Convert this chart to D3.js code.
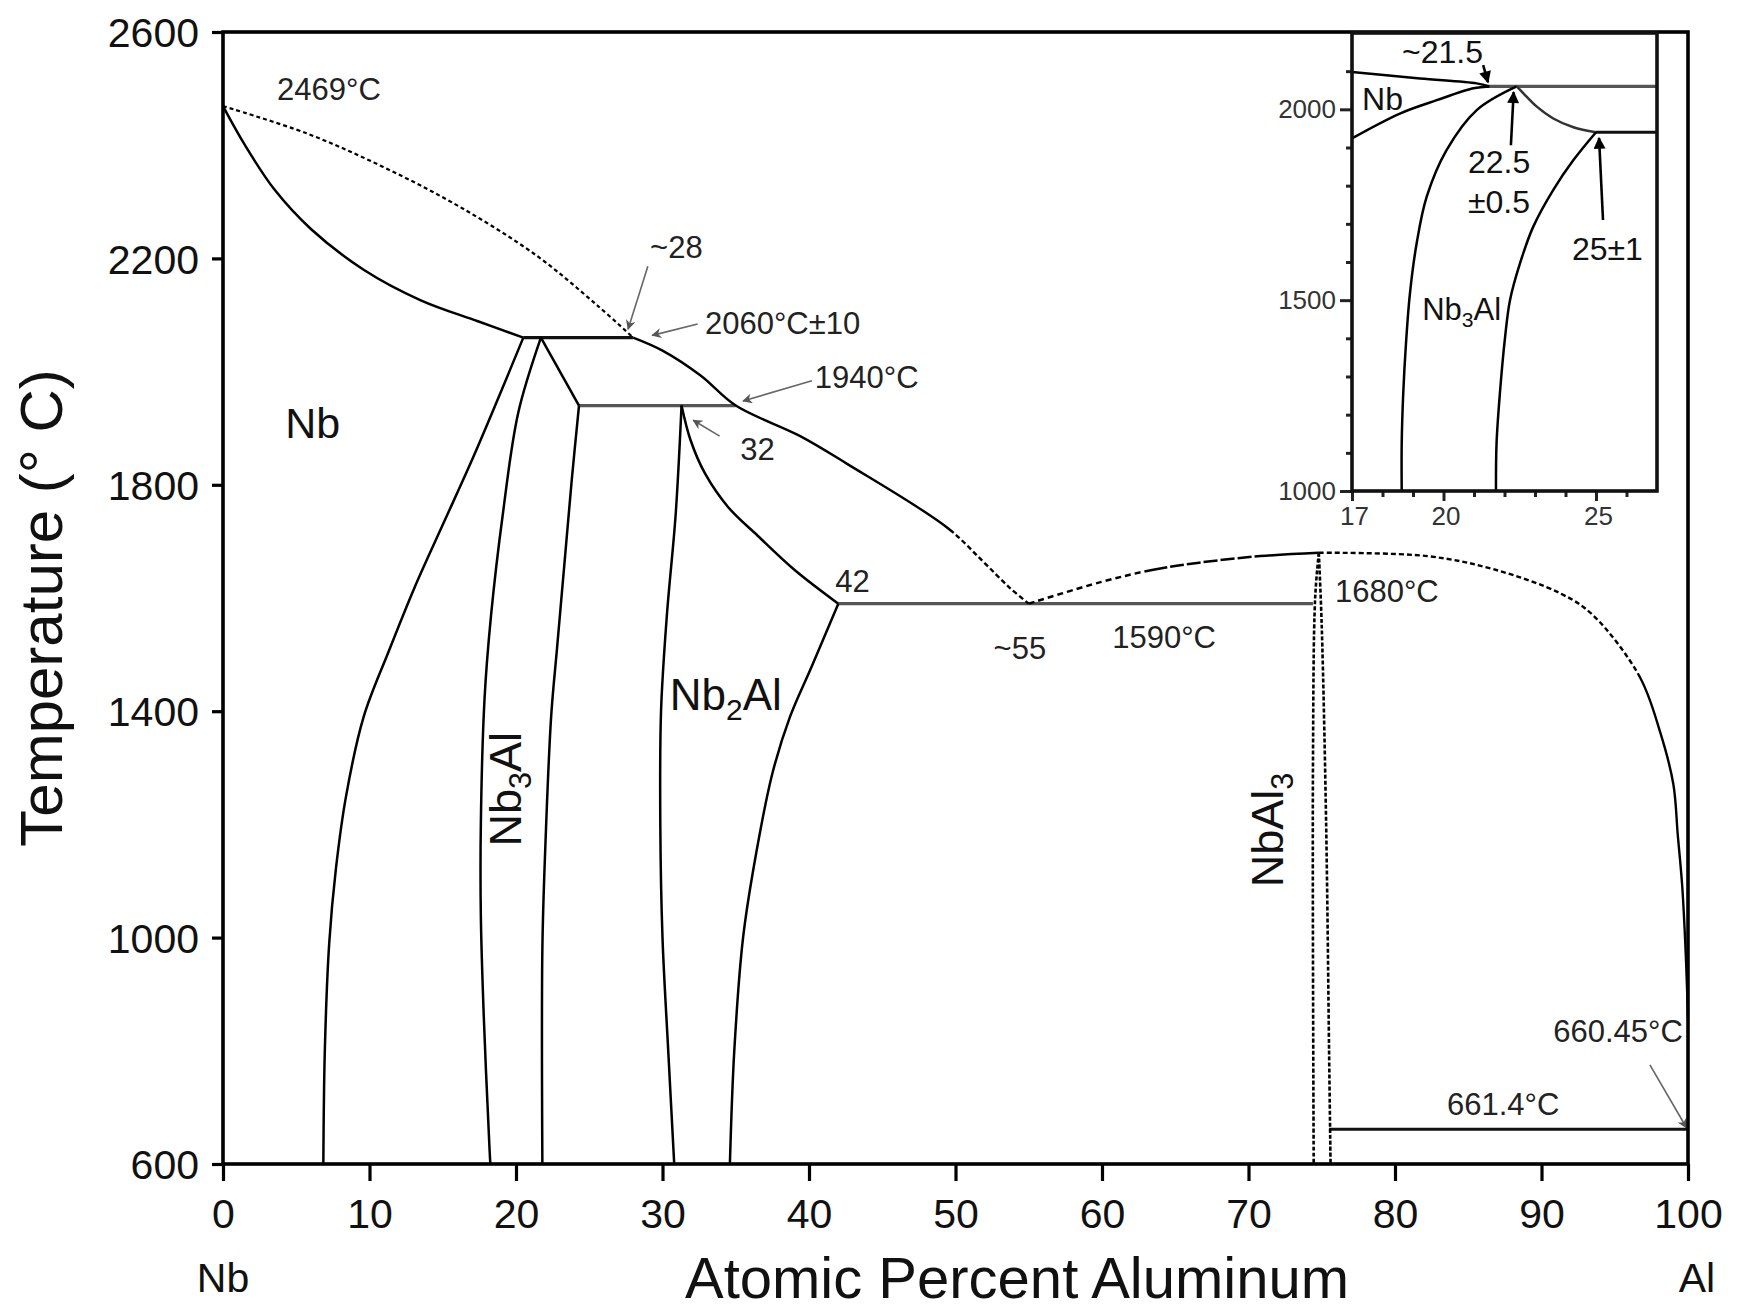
<!DOCTYPE html>
<html>
<head>
<meta charset="utf-8">
<script src="https://cdn.jsdelivr.net/npm/d3@7"></script>
<style>
  html, body { margin: 0; padding: 0; background: #fff; }
  svg { display: block; }
  text { font-family: "Liberation Sans", Arial, Helvetica, sans-serif; fill: #111; }
</style>
</head>
<body>
<svg id="chart" width="1738" height="1312"></svg>
<script>
// ---- Axis ticks ----
const xTicks = [0, 10, 20, 30, 40, 50, 60, 70, 80, 90, 100];
const yTicks = [600, 1000, 1400, 1800, 2200, 2600];
const insetXMajor = [17, 20, 25];
const insetXMinor = [18, 19, 21, 22, 23, 24, 26];
const insetYMajor = [1000, 1500, 2000];
const insetYMinor = [1100, 1200, 1300, 1400, 1600, 1700, 1800, 1900, 2100];

// ---- Phase boundaries, [at.% Al, °C] ----
const nbLiquidus = [[0, 2469], [5.7, 2421], [10.9, 2362], [16.1, 2292], [21.4, 2205], [25.5, 2118], [28, 2060]];
const nbSolidus = [[0, 2469], [1.5, 2400], [3.5, 2322], [6, 2252], [9.6, 2180], [13.5, 2126], [17.4, 2089], [20.5, 2060]];
const nbSolvus = [[20.5, 2060], [18.9, 1960], [17.1, 1850], [15.1, 1735], [13.1, 1620], [11.3, 1505], [9.6, 1390], [8.4, 1250], [7.7, 1120], [7.25, 990], [6.95, 800], [6.85, 600]];
const nb3AlLeft = [[21.7, 2060], [20.15, 1927], [19.1, 1748], [18.3, 1570], [17.85, 1421], [17.6, 1200], [17.6, 1039], [17.8, 861], [18.2, 623], [18.25, 600]];
const nb3AlTop = [[21.7, 2060], [24.3, 1940]];
const nb3AlRight = [[24.3, 1940], [23.8, 1807], [23.3, 1659], [22.8, 1511], [22.4, 1391], [22.0, 1159], [21.8, 980], [21.8, 600]];
const nb2AlLeft = [[31.3, 1940], [30.9, 1748], [30.3, 1570], [29.9, 1400], [29.85, 1200], [30.0, 1000], [30.4, 796], [30.8, 600]];
const nb2AlUpper = [[31.3, 1940], [31.9, 1880], [32.9, 1820], [34.5, 1760], [36.5, 1710], [39, 1650], [42, 1590]];
const nb2AlLower = [[42, 1590], [40.2, 1480], [38.7, 1390], [37.5, 1290], [36.4, 1150], [35.5, 1000], [34.9, 800], [34.6, 600]];
// liquidus from the 2060 °C peritectic down to the ~55 at.% eutectic (solid, then dashed)
const liquidusMid = [[28, 2060], [30, 2037], [32.6, 1993], [35, 1940], [39.4, 1886], [42.6, 1837], [49.4, 1725], [51.9, 1664], [53.7, 1618], [55, 1590]];
// liquidus rising from the eutectic to the NbAl3 congruent point
const liquidusRise = [[55, 1590], [59.9, 1628], [63.5, 1650], [66.5, 1662], [70.8, 1674], [74.8, 1680]];
// liquidus from NbAl3 to pure Al
const alLiquidus = [[74.8, 1680], [82.2, 1674], [86.7, 1651], [91.3, 1608], [93.5, 1570], [96.7, 1461], [98.1, 1363], [99.0, 1271], [99.3, 1182], [99.6, 1093], [99.8, 998], [99.95, 900], [100, 860]];
const nbAl3Left = [[74.8, 1680], [74.55, 1600], [74.4, 1300], [74.45, 600]];
const nbAl3Right = [[74.8, 1680], [75.0, 1550], [75.3, 1200], [75.5, 800], [75.6, 600]];

// Invariant reactions: [from at.%, to at.%, °C]
const isotherms = [
  { from: 20.5, to: 28, t: 2060, color: "#111" },
  { from: 24.3, to: 35, t: 1940, color: "#555" },
  { from: 42, to: 74.4, t: 1590, color: "#555" },
  { from: 75.5, to: 100, t: 661.4, color: "#111" }
];

// Annotations [text, at.%, °C]
const notes = [
  ["2469°C", 3.69, 2480], ["~28", 29.15, 2200], ["2060°C±10", 32.9, 2066],
  ["1940°C", 40.4, 1971], ["32", 35.3, 1843], ["42", 41.8, 1611],
  ["~55", 52.6, 1493], ["1590°C", 60.7, 1511], ["1680°C", 75.9, 1593],
  ["660.45°C", 90.8, 816], ["661.4°C", 83.55, 686]
];
const noteArrows = [
  [[29.0, 2186], [27.65, 2075]],
  [[32.4, 2084], [29.3, 2064]],
  [[40.2, 1984], [35.5, 1948]],
  [[33.9, 1886], [32.1, 1914]],
  [[97.4, 775], [99.9, 664]]
];

// ---- Inset: Nb3Al region enlarged ----
const inNbSolidus = [[17, 2098], [19.23, 2081], [21.09, 2068], [21.5, 2060]];
const inNbSolvus = [[17, 1924], [18.57, 1989], [19.78, 2024], [20.98, 2055], [21.5, 2060]];
const inNb3AlLeft = [[22.4, 2060], [21.09, 1998], [20.1, 1893], [19.45, 1771], [19.12, 1649], [18.9, 1518], [18.77, 1387], [18.68, 1256], [18.63, 1125], [18.63, 1000]];
const inNb3AlTop = [[22.4, 2060], [22.62, 2042], [23.06, 2007], [23.6, 1976], [24.26, 1953], [25, 1940]];
const inNb3AlRight = [[25, 1940], [24.26, 1867], [23.6, 1789], [22.94, 1692], [22.51, 1597], [22.18, 1500], [22.02, 1404], [21.85, 1257], [21.74, 1126], [21.72, 1000]];
const inIsotherms = [
  { from: 21.3, to: 27, t: 2060, color: "#555" },
  { from: 25, to: 27, t: 1940, color: "#111" }
];
const inNotes = [["~21.5", 18.64, 2121], ["22.5", 20.8, 1833], ["±0.5", 20.8, 1728], ["25±1", 24.21, 1605]];
const inArrows = [
  [[21.3, 2116], [21.46, 2071]],
  [[22.21, 1906], [22.3, 2045]],
  [[25.23, 1710], [25.1, 1925]]
];

// ---- Scales ----
const x = d3.scaleLinear().domain([0, 100]).range([223, 1688]);
const y = d3.scaleLinear().domain([600, 2600]).range([1164, 32]);
const ix = d3.scaleLinear().domain([17, 27]).range([1352, 1657]);
const iy = d3.scaleLinear().domain([1000, 2200]).range([491, 33]);

const svg = d3.select("#chart");
const defs = svg.append("defs");
defs.append("marker").attr("id", "headGray")
  .attr("viewBox", "0 0 10 10").attr("refX", 9).attr("refY", 5)
  .attr("markerUnits", "userSpaceOnUse").attr("markerWidth", 13).attr("markerHeight", 10)
  .attr("orient", "auto")
  .append("path").attr("d", "M0,0 L10,5 L0,10 L3,5 z").attr("fill", "#555");
defs.append("marker").attr("id", "headBlack")
  .attr("viewBox", "0 0 10 10").attr("refX", 9).attr("refY", 5)
  .attr("markerUnits", "userSpaceOnUse").attr("markerWidth", 16).attr("markerHeight", 12)
  .attr("orient", "auto")
  .append("path").attr("d", "M0,0 L10,5 L0,10 z").attr("fill", "#000");

const mainLine = d3.line().x(d => x(d[0])).y(d => y(d[1])).curve(d3.curveCatmullRom.alpha(0.5));
const insetLine = d3.line().x(d => ix(d[0])).y(d => iy(d[1])).curve(d3.curveCatmullRom.alpha(0.5));

const plot = svg.append("g");

function curve(g, gen, data, opts) {
  return g.append("path").datum(data).attr("d", gen)
    .attr("fill", "none").attr("stroke", opts.color || "#000")
    .attr("stroke-width", opts.width || 2.5)
    .attr("stroke-dasharray", opts.dash || null)
    .attr("stroke-linejoin", "round");
}

// One smooth path whose dash pattern changes at given compositions.
// stops: [{to: at.% or null (end), dash: [on, off] or null (solid)}]
function styledCurve(g, data, stops, width) {
  const p = curve(g, mainLine, data, { width });
  const node = p.node();
  const L = node.getTotalLength();
  const lengthAtX = xv => {
    let lo = 0, hi = L;
    for (let i = 0; i < 40; i++) {
      const m = (lo + hi) / 2;
      if (node.getPointAtLength(m).x < x(xv)) lo = m; else hi = m;
    }
    return lo;
  };
  const arr = [];
  let pos = 0;
  stops.forEach(s => {
    const end = s.to == null ? L + 1 : lengthAtX(s.to);
    if (!s.dash) { arr.push(end - pos, 0); pos = end; return; }
    const [a, b] = s.dash;
    while (pos + a + b <= end) { arr.push(a, b); pos += a + b; }
    if (pos < end) { arr.push(end - pos, 0); pos = end; }
  });
  p.attr("stroke-dasharray", arr.map(v => v.toFixed(2)).join(","));
}

// isotherms first so boundary curves sit on top
plot.selectAll("line.iso").data(isotherms).join("line")
  .attr("x1", d => x(d.from)).attr("x2", d => x(d.to))
  .attr("y1", d => y(d.t)).attr("y2", d => y(d.t))
  .attr("stroke", d => d.color).attr("stroke-width", 3.2);

curve(plot, mainLine, nbLiquidus, { dash: "4,3", width: 2.2 });
curve(plot, mainLine, nbSolidus, {});
curve(plot, mainLine, nbSolvus, {});
curve(plot, mainLine, nb3AlLeft, {});
curve(plot, mainLine, nb3AlTop, {});
curve(plot, mainLine, nb3AlRight, {});
curve(plot, mainLine, nb2AlLeft, {});
curve(plot, mainLine, nb2AlUpper, {});
curve(plot, mainLine, nb2AlLower, {});
styledCurve(plot, liquidusMid, [{ to: 49.6, dash: null }, { to: null, dash: [5, 3] }], 2.4);
styledCurve(plot, liquidusRise, [{ to: 63.5, dash: [6, 4] }, { to: 70.8, dash: [14, 3] }, { to: null, dash: null }], 2.5);
styledCurve(plot, alLiquidus, [{ to: 96.7, dash: [5, 3] }, { to: null, dash: null }], 2.4);
curve(plot, mainLine, nbAl3Left, { dash: "4,2", width: 2.6 });
curve(plot, mainLine, nbAl3Right, { dash: "4,2", width: 2.6 });

// annotation arrows and values
plot.selectAll("line.arrow").data(noteArrows).join("line")
  .attr("x1", d => x(d[0][0])).attr("y1", d => y(d[0][1]))
  .attr("x2", d => x(d[1][0])).attr("y2", d => y(d[1][1]))
  .attr("stroke", "#666").attr("stroke-width", 1.6)
  .attr("marker-end", "url(#headGray)");

plot.selectAll("text.note").data(notes).join("text")
  .attr("x", d => x(d[1])).attr("y", d => y(d[2]))
  .attr("font-size", 31).style("fill", "#222")
  .text(d => d[0]);

// phase field names
function phaseLabel(g, parts, px, py, size, rotate) {
  const t = g.append("text").attr("font-size", size)
    .attr("transform", `translate(${px},${py})` + (rotate ? " rotate(-90)" : ""))
    .attr("text-anchor", rotate ? "middle" : "start");
  parts.forEach(p => {
    const s = t.append("tspan").text(p.t);
    if (p.sub) s.attr("font-size", size * 0.68).attr("dy", size * 0.22);
    if (p.back) s.attr("dy", -size * 0.22);
  });
}
phaseLabel(plot, [{ t: "Nb" }], x(4.25), y(1882), 43, false);
phaseLabel(plot, [{ t: "Nb" }, { t: "2", sub: true }, { t: "Al", back: true }], x(30.5), y(1402), 44, false);
phaseLabel(plot, [{ t: "Nb" }, { t: "3", sub: true }, { t: "Al", back: true }], x(20.34), y(1262), 45, true);
phaseLabel(plot, [{ t: "NbAl" }, { t: "3", sub: true }], x(72.35), y(1190), 45, true);

// ---- Axes ----
const fmt = d3.format("d");
const yAxis = d3.axisLeft(y).tickValues(yTicks).tickSize(11).tickPadding(13).tickFormat(fmt);
const xAxis = d3.axisBottom(x).tickValues(xTicks).tickSize(17).tickPadding(18).tickFormat(fmt);
const gy = svg.append("g").attr("transform", `translate(${x(0)},0)`).call(yAxis);
const gx = svg.append("g").attr("transform", `translate(0,${y(600)})`).call(xAxis);
[gx, gy].forEach(g => {
  g.select(".domain").remove();
  g.selectAll(".tick line").attr("stroke", "#000").attr("stroke-width", 3.2);
  g.selectAll(".tick text").attr("font-size", 41).attr("font-family", "Liberation Sans, Arial, sans-serif").style("fill", "#111");
});
gy.selectAll(".tick text").attr("dy", "0.36em");

// frame
svg.append("rect").attr("x", x(0)).attr("y", y(2600))
  .attr("width", x(100) - x(0)).attr("height", y(600) - y(2600))
  .attr("fill", "none").attr("stroke", "#000").attr("stroke-width", 3.6);

// axis titles and end members
svg.append("text").attr("x", x(0)).attr("y", 1292).attr("text-anchor", "middle").attr("font-size", 41).text("Nb");
svg.append("text").attr("x", x(100) + 9).attr("y", 1292).attr("text-anchor", "middle").attr("font-size", 41).text("Al");
svg.append("text").attr("x", 1017).attr("y", 1298).attr("text-anchor", "middle").attr("font-size", 58).text("Atomic Percent Aluminum");
svg.append("text").attr("transform", "translate(62,608) rotate(-90)").attr("text-anchor", "middle").attr("font-size", 60).text("Temperature (° C)");

// ---- Inset ----
const inset = svg.append("g");
inset.append("rect").attr("x", ix(17)).attr("y", iy(2200))
  .attr("width", ix(27) - ix(17)).attr("height", iy(1000) - iy(2200)).attr("fill", "#fff");

inset.selectAll("line.iso").data(inIsotherms).join("line")
  .attr("x1", d => ix(d.from)).attr("x2", d => ix(d.to))
  .attr("y1", d => iy(d.t)).attr("y2", d => iy(d.t))
  .attr("stroke", d => d.color).attr("stroke-width", 3.2);
curve(inset, insetLine, inNbSolidus, {});
curve(inset, insetLine, inNbSolvus, {});
curve(inset, insetLine, inNb3AlLeft, {});
curve(inset, insetLine, inNb3AlTop, { color: "#333" });
curve(inset, insetLine, inNb3AlRight, {});

inset.selectAll("line.arrow").data(inArrows).join("line")
  .attr("x1", d => ix(d[0][0])).attr("y1", d => iy(d[0][1]))
  .attr("x2", d => ix(d[1][0])).attr("y2", d => iy(d[1][1]))
  .attr("stroke", "#000").attr("stroke-width", 2.6)
  .attr("marker-end", "url(#headBlack)");
inset.selectAll("text.note").data(inNotes).join("text")
  .attr("x", d => ix(d[1])).attr("y", d => iy(d[2]))
  .attr("font-size", 32).text(d => d[0]);
phaseLabel(inset, [{ t: "Nb" }], ix(17.33), iy(1998), 32, false);
phaseLabel(inset, [{ t: "Nb" }, { t: "3", sub: true }, { t: "Al", back: true }], ix(19.3), iy(1448), 31, false);

const ixAxis = d3.axisBottom(ix).tickValues(insetXMajor).tickSize(10).tickPadding(6).tickFormat(fmt);
const ixMinor = d3.axisBottom(ix).tickValues(insetXMinor).tickSize(6).tickFormat("");
const iyAxis = d3.axisLeft(iy).tickValues(insetYMajor).tickSize(12).tickPadding(4).tickFormat(fmt);
const iyMinor = d3.axisLeft(iy).tickValues(insetYMinor).tickSize(6).tickFormat("");
const gix = inset.append("g").attr("transform", `translate(0,${iy(1000)})`).call(ixAxis);
const gixm = inset.append("g").attr("transform", `translate(0,${iy(1000)})`).call(ixMinor);
const giy = inset.append("g").attr("transform", `translate(${ix(17)},0)`).call(iyAxis);
const giym = inset.append("g").attr("transform", `translate(${ix(17)},0)`).call(iyMinor);
[gix, gixm, giy, giym].forEach(g => {
  g.select(".domain").remove();
  g.selectAll(".tick line").attr("stroke", "#222").attr("stroke-width", 3);
  g.selectAll(".tick text").attr("font-size", 26).attr("font-family", "Liberation Sans, Arial, sans-serif").style("fill", "#333");
});
gix.selectAll(".tick text").attr("dx", 2);

inset.append("rect").attr("x", ix(17)).attr("y", iy(2200))
  .attr("width", ix(27) - ix(17)).attr("height", iy(1000) - iy(2200))
  .attr("fill", "none").attr("stroke", "#111").attr("stroke-width", 3.6);
</script>
</body>
</html>
